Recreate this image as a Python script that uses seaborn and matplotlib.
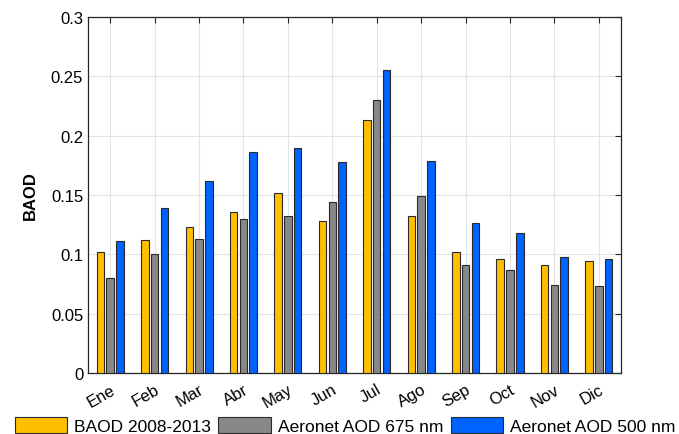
import matplotlib
matplotlib.use("Agg")
import matplotlib.pyplot as plt
import seaborn as sns
import pandas as pd

months = ["Ene", "Feb", "Mar", "Abr", "May", "Jun", "Jul", "Ago", "Sep", "Oct", "Nov", "Dic"]
series_names = ["BAOD 2008-2013", "Aeronet AOD 675 nm", "Aeronet AOD 500 nm"]
baod = [0.102, 0.112, 0.123, 0.136, 0.152, 0.128, 0.213, 0.132, 0.102, 0.096, 0.091, 0.094]
aod_675 = [0.080, 0.100, 0.113, 0.130, 0.132, 0.144, 0.230, 0.149, 0.091, 0.087, 0.074, 0.073]
aod_500 = [0.111, 0.139, 0.162, 0.186, 0.190, 0.178, 0.255, 0.179, 0.126, 0.118, 0.098, 0.096]
colors = ["#FFBF00", "#888888", "#0062FF"]

rows = []
for name, vals in zip(series_names, [baod, aod_675, aod_500]):
    for m, v in zip(months, vals):
        rows.append({"Mes": m, "Serie": name, "Valor": v})
df = pd.DataFrame(rows)

sns.set_style("white")
plt.rcParams["font.family"] = ["Liberation Sans", "DejaVu Sans"]
plt.rcParams["text.color"] = "black"
plt.rcParams["axes.labelcolor"] = "black"

fig = plt.figure(figsize=(6.79, 4.35), dpi=100)
ax = fig.add_axes([0.1296, 0.1402, 0.785, 0.8184])

sns.barplot(data=df, x="Mes", y="Valor", hue="Serie", order=months,
            hue_order=series_names, palette=colors, width=0.66, gap=0.23,
            edgecolor="#2a2a2a", linewidth=0.8, saturation=1, errorbar=None,
            ax=ax, legend=True, zorder=3)

ax.set_xlim(-0.5, 11.5)
ax.set_ylim(0, 0.3)
ax.set_yticks([0, 0.05, 0.1, 0.15, 0.2, 0.25, 0.3])
ax.set_yticklabels(["0", "0.05", "0.1", "0.15", "0.2", "0.25", "0.3"])
ax.set_xlabel("")
ax.set_ylabel("BAOD", fontsize=12, fontweight="bold", color="black")
ax.yaxis.set_label_coords(-0.094, 0.5)
ax.grid(True, color="#e3e3e3", linewidth=0.8, zorder=0)
ax.set_axisbelow(True)

for lbl in ax.get_xticklabels():
    lbl.set_rotation(30)
    lbl.set_ha("right")
    lbl.set_rotation_mode("anchor")

ax.tick_params(axis="both", which="both", direction="in", length=4, width=0.8,
               top=True, right=True, labelsize=12, colors="#262626",
               labelcolor="black")
ax.tick_params(axis="x", pad=6)
for sp in ax.spines.values():
    sp.set_visible(True)
    sp.set_color("#262626")
    sp.set_linewidth(0.9)

handles, labels = ax.get_legend_handles_labels()
ax.get_legend().remove()
fig.legend(handles, labels, loc="lower center", ncol=3, frameon=False,
           bbox_to_anchor=(0.508, 0.0), fontsize=12.5, handlelength=3.0,
           handleheight=1.0, handletextpad=0.4, columnspacing=0.45,
           borderaxespad=0.0, borderpad=0.0, labelcolor="black")

fig.savefig("out.png", dpi=100)
